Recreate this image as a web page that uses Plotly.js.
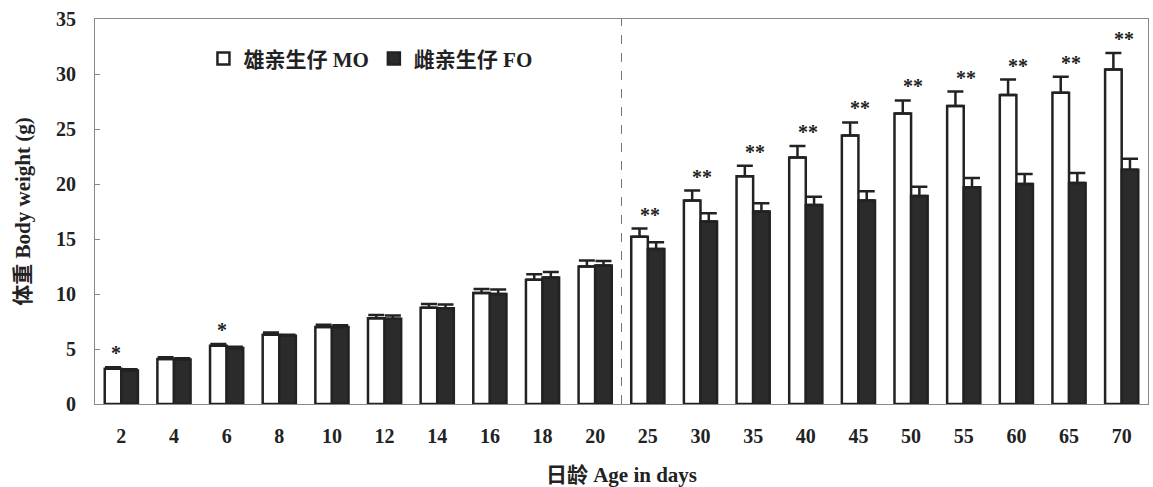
<!DOCTYPE html>
<html>
<head>
<meta charset="utf-8">
<script src="https://cdn.plot.ly/plotly-3.0.1.min.js"></script>
<style>html,body{margin:0;padding:0;background:#fff;}</style>
</head>
<body>
<div id="chart" style="width:1153px;height:487px;"></div>
<script>
// Age categories (days)
const ages = ['2','4','6','8','10','12','14','16','18','20','25','30','35','40','45','50','55','60','65','70'];
// 雄亲生仔 MO (mean, error)
const moMean = [3.2,4.1,5.3,6.3,7.0,7.8,8.75,10.1,11.3,12.5,15.2,18.5,20.7,22.4,24.4,26.4,27.1,28.1,28.3,30.4];
const moErr  = [0.15,0.15,0.15,0.2,0.2,0.3,0.35,0.35,0.5,0.55,0.75,0.9,0.95,1.05,1.2,1.2,1.3,1.4,1.45,1.5];
// 雌亲生仔 FO (mean, error)
const foMean = [3.05,4.05,5.1,6.2,7.0,7.75,8.7,10.0,11.5,12.6,14.1,16.6,17.5,18.1,18.5,18.9,19.7,20.0,20.1,21.3];
const foErr  = [0.1,0.1,0.1,0.1,0.15,0.3,0.35,0.4,0.5,0.4,0.6,0.75,0.75,0.75,0.85,0.85,0.85,0.9,0.9,1.0];
// significance marks
const sig = ['*','','*','','','','','','','','**','**','**','**','**','**','**','**','**','**'];
const yTicks = [0,5,10,15,20,25,30,35];

const FONT = 'Liberation Serif, "Noto Sans CJK SC", serif';
const INK = '#222222';

const traces = [
  {
    type: 'bar', name: '雄亲生仔 MO', x: ages, y: moMean,
    marker: {color: '#ffffff', line: {color: INK, width: 2.5}},
    error_y: {type: 'data', symmetric: false, array: moErr, arrayminus: moErr.map(() => 0),
              color: INK, thickness: 2.5, width: 8}
  },
  {
    type: 'bar', name: '雌亲生仔 FO', x: ages, y: foMean,
    marker: {color: '#2b2b2b', line: {color: INK, width: 2.5}},
    error_y: {type: 'data', symmetric: false, array: foErr, arrayminus: foErr.map(() => 0),
              color: INK, thickness: 2.5, width: 8}
  }
];

const annotations = [];
ages.forEach((a, i) => {
  if (sig[i]) {
    annotations.push({
      x: i, y: moMean[i] + moErr[i], xref: 'x', yref: 'y',
      text: sig[i], showarrow: false, yanchor: 'bottom', yshift: 1,
      xshift: sig[i].length === 1 ? -5 : 2,
      font: {family: FONT, size: 20, color: INK, weight: 'bold'}
    });
  }
});

const layout = {
  width: 1153, height: 487,
  margin: {l: 95, r: 5, t: 19, b: 83},
  paper_bgcolor: '#fff', plot_bgcolor: '#fff',
  barmode: 'group', bargap: 0.37, bargroupgap: 0,
  showlegend: true,
  legend: {
    orientation: 'h', x: 0.103, y: 0.95, xanchor: 'left', yanchor: 'top',
    font: {family: FONT, size: 21, color: INK, weight: 'bold'},
    bgcolor: 'rgba(0,0,0,0)', traceorder: 'normal'
  },
  font: {family: FONT, color: INK},
  xaxis: {
    type: 'category', range: [-0.5, ages.length - 0.5], autorange: false,
    showgrid: false, zeroline: false,
    showline: true, mirror: true, linecolor: '#888', linewidth: 1,
    ticks: '', ticklabelstandoff: 14,
    tickfont: {family: FONT, size: 20, color: INK, weight: 'bold'},
    title: {text: '日龄 Age in days', standoff: 24,
            font: {family: FONT, size: 21, color: INK, weight: 'bold'}}
  },
  yaxis: {
    range: [0, 35], autorange: false, tickvals: yTicks, ticktext: yTicks.map(String),
    showgrid: false, zeroline: false,
    showline: true, mirror: true, linecolor: '#888', linewidth: 1,
    ticks: 'inside', ticklen: 5, tickcolor: '#888',
    ticklabelstandoff: 14,
    tickfont: {family: FONT, size: 20, color: INK, weight: 'bold'},
    title: {text: '体重 Body weight (g)', standoff: 19,
            font: {family: FONT, size: 21, color: INK, weight: 'bold'}}
  },
  shapes: [{
    type: 'line', xref: 'x', yref: 'y', x0: 9.5, x1: 9.5, y0: 0, y1: 35,
    line: {color: '#777', width: 1, dash: 'dash'}
  }],
  annotations: annotations
};

Plotly.newPlot('chart', traces, layout, {displayModeBar: false, staticPlot: true});
</script>
</body>
</html>
